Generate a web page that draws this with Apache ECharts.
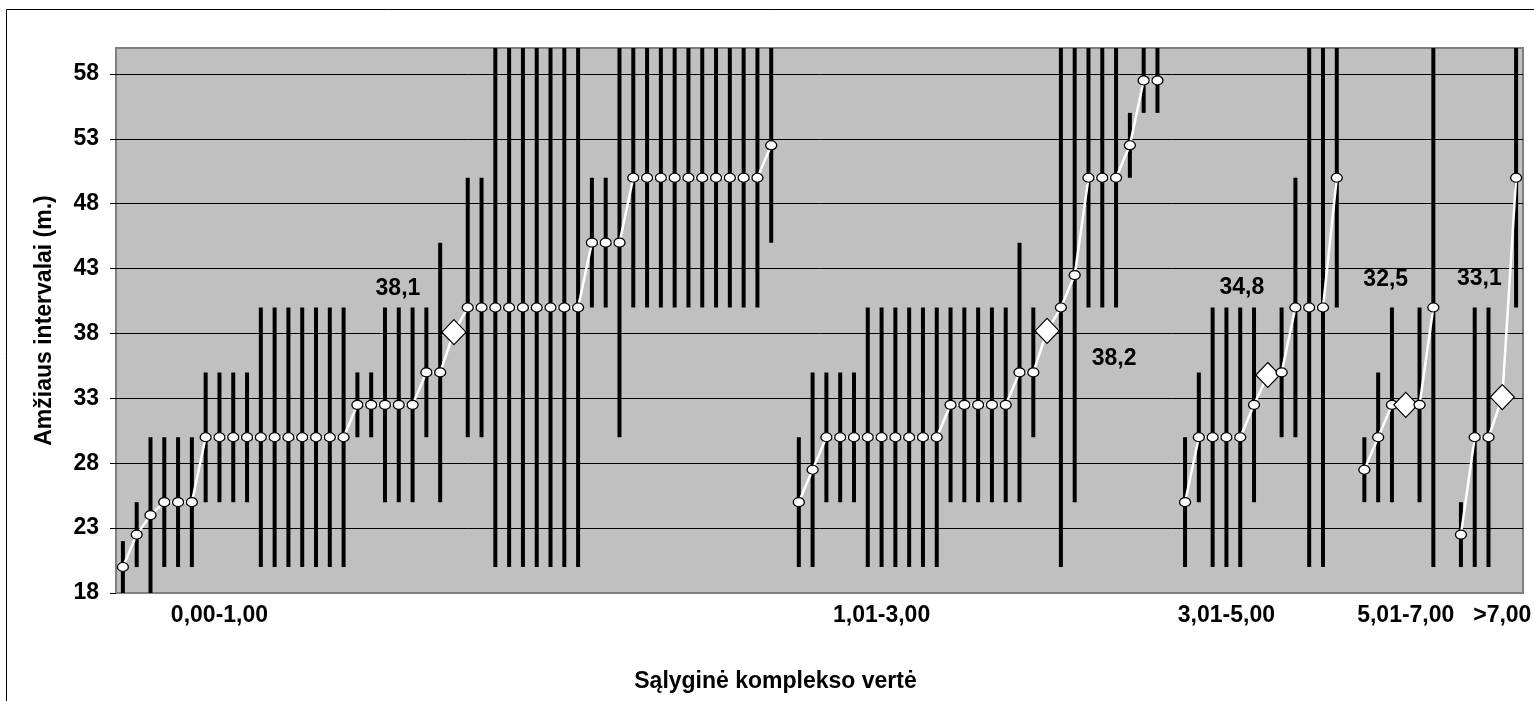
<!DOCTYPE html>
<html>
<head>
<meta charset="utf-8">
<script src="https://cdn.jsdelivr.net/npm/echarts@6.0.0/dist/echarts.min.js"></script>
<style>
  html, body { margin: 0; padding: 0; background: #fff; }
  #chart { width: 1534px; height: 701px; }
</style>
</head>
<body>
<div id="chart"></div>
<script>
// y axis runs 18..60 with a tick every 5, so values are shifted by Y_MIN
const Y_MIN = 18;
const Y_MAX = 60;

// point values per category (null = gap between groups); group means included
const ages = [
  20, 22.5, 24, 25, 25, 25, 30, 30, 30, 30, 30, 30, 30, 30, 30, 30, 30,
  32.5, 32.5, 32.5, 32.5, 32.5, 35, 35, 38.1, 40, 40, 40, 40, 40, 40, 40, 40, 40,
  45, 45, 45, 50, 50, 50, 50, 50, 50, 50, 50, 50, 50, 52.5, null,
  25, 27.5, 30, 30, 30, 30, 30, 30, 30, 30, 30, 32.5, 32.5, 32.5, 32.5, 32.5,
  35, 35, 38.2, 40, 42.5, 50, 50, 50, 52.5, 57.5, 57.5, null,
  25, 30, 30, 30, 30, 32.5, 34.8, 35, 40, 40, 40, 50, null,
  27.5, 30, 32.5, 32.5, 32.5, 40, null,
  22.5, 30, 30, 33.1, 50
];

// interval ends (vertical bars)
const lows = [
  18, 20, 18, 20, 20, 20, 25, 25, 25, 25, 20, 20, 20, 20, 20, 20, 20,
  30, 30, 25, 25, 25, 30, 25, null, 30, 30, 20, 20, 20, 20, 20, 20, 20,
  40, 40, 30, 40, 40, 40, 40, 40, 40, 40, 40, 40, 40, 45, null,
  20, 20, 25, 25, 25, 20, 20, 20, 20, 20, 20, 25, 25, 25, 25, 25,
  25, 30, null, 20, 25, 40, 40, 40, 50, 55, 55, null,
  20, 25, 20, 20, 20, 25, null, 30, 30, 20, 20, 40, null,
  25, 25, 25, null, 25, 20, null,
  20, 20, 20, null, 40
];
const highs = [
  22, 25, 30, 30, 30, 30, 35, 35, 35, 35, 40, 40, 40, 40, 40, 40, 40,
  35, 35, 40, 40, 40, 40, 45, null, 50, 50, 60, 60, 60, 60, 60, 60, 60,
  50, 50, 60, 60, 60, 60, 60, 60, 60, 60, 60, 60, 60, 60, null,
  30, 35, 35, 35, 35, 40, 40, 40, 40, 40, 40, 40, 40, 40, 40, 40,
  45, 40, null, 60, 60, 60, 60, 60, 55, 60, 60, null,
  30, 35, 40, 40, 40, 40, null, 40, 50, 60, 60, 60, null,
  30, 35, 40, null, 40, 60, null,
  25, 40, 40, null, 60
];

// categories that hold a group mean (drawn as diamonds)
const meanPos = [24, 67, 83, 93, 100];

// group names and the category each sits under
const groupNames = ['0,00-1,00', '1,01-3,00', '3,01-5,00', '5,01-7,00', '>7,00'];
const groupNamePos = [7, 55, 80, 93, 100];

// where each mean label sits relative to its diamond
const meanLabelOffsets = [[-56, -44], [67, 28], [-26, -87], [-20, -125], [-23, -118]];

const FONT = '"Liberation Sans", Arial, sans-serif';

const categories = ages.map(() => '');
groupNamePos.forEach((p, i) => { categories[p] = groupNames[i]; });

const barData = [];
lows.forEach((lo, i) => {
  if (lo == null || highs[i] == null) return;
  barData.push([i, lo - Y_MIN, highs[i] - Y_MIN]);
});

const lineData = ages.map((v, i) => {
  if (v == null) return null;
  const m = meanPos.indexOf(i);
  if (m < 0) return v - Y_MIN;
  return {
    value: v - Y_MIN,
    symbol: 'diamond',
    symbolSize: [24, 25],
    itemStyle: { color: '#fff', borderColor: '#000', borderWidth: 1.2 },
    label: {
      show: true,
      position: 'inside',
      offset: meanLabelOffsets[m],
      formatter: () => v.toFixed(1).replace('.', ','),
      color: '#000',
      fontFamily: FONT,
      fontWeight: 'bold',
      fontSize: 23
    }
  };
});

// split lines: bottom and top edge stay grey like the plot border
const splitColors = ['#808080'];
for (let v = 5; v < Y_MAX - Y_MIN; v += 5) splitColors.push('#000');
splitColors.push('#808080');

const chart = echarts.init(document.getElementById('chart'), null, { renderer: 'canvas' });

chart.setOption({
  animation: false,
  backgroundColor: '#fff',
  graphic: [
    {
      type: 'rect',
      shape: { x: 6.5, y: 9.5, width: 1560, height: 720 },
      style: { fill: null, stroke: '#000', lineWidth: 1 },
      silent: true,
      z: -1
    }
  ],
  grid: {
    left: 116,
    right: 11,
    top: 48,
    bottom: 108,
    show: true,
    backgroundColor: '#c0c0c0',
    borderColor: '#808080',
    borderWidth: 2,
    outerBoundsMode: 'none'
  },
  xAxis: {
    type: 'category',
    data: categories,
    boundaryGap: true,
    name: 'Sąlyginė komplekso vertė',
    nameLocation: 'middle',
    nameGap: 77,
    nameTextStyle: {
      color: '#000', fontFamily: FONT, fontWeight: 'bold', fontSize: 23,
      padding: [0, 88, 0, 0]
    },
    axisLine: { show: false },
    axisTick: { show: false },
    splitLine: { show: false },
    axisLabel: {
      interval: 0,
      margin: 11,
      hideOverlap: false,
      color: '#000',
      fontFamily: FONT,
      fontWeight: 'bold',
      fontSize: 23
    }
  },
  yAxis: {
    type: 'value',
    min: 0,
    max: Y_MAX - Y_MIN,
    interval: 5,
    name: 'Amžiaus intervalai (m.)',
    nameLocation: 'middle',
    nameGap: 60,
    nameRotate: 90,
    nameTextStyle: { color: '#000', fontFamily: FONT, fontWeight: 'bold', fontSize: 23 },
    axisLine: { show: false },
    axisTick: { show: true, inside: false, length: 6, lineStyle: { color: '#000', width: 1 } },
    splitLine: { show: true, lineStyle: { color: splitColors, width: 1 } },
    axisLabel: {
      margin: 17,
      showMaxLabel: false,
      color: '#000',
      fontFamily: FONT,
      fontWeight: 'bold',
      fontSize: 23,
      formatter: (v) => String(v + Y_MIN)
    }
  },
  series: [
    {
      name: 'intervalai',
      type: 'custom',
      data: barData,
      encode: { x: 0, y: [1, 2] },
      z: 2,
      silent: true,
      renderItem: (params, api) => {
        const a = api.coord([api.value(0), api.value(1)]);
        const b = api.coord([api.value(0), api.value(2)]);
        return {
          type: 'line',
          shape: { x1: a[0], y1: a[1], x2: b[0], y2: b[1] },
          style: { stroke: '#000', lineWidth: 4 }
        };
      }
    },
    {
      name: 'amžius',
      type: 'line',
      data: lineData,
      z: 3,
      silent: true,
      connectNulls: false,
      symbol: 'circle',
      symbolSize: [11, 9],
      showAllSymbol: true,
      lineStyle: { color: '#fff', width: 2.5 },
      itemStyle: { color: '#fff', borderColor: '#000', borderWidth: 1.2 },
      label: { show: false }
    }
  ]
});
</script>
</body>
</html>
